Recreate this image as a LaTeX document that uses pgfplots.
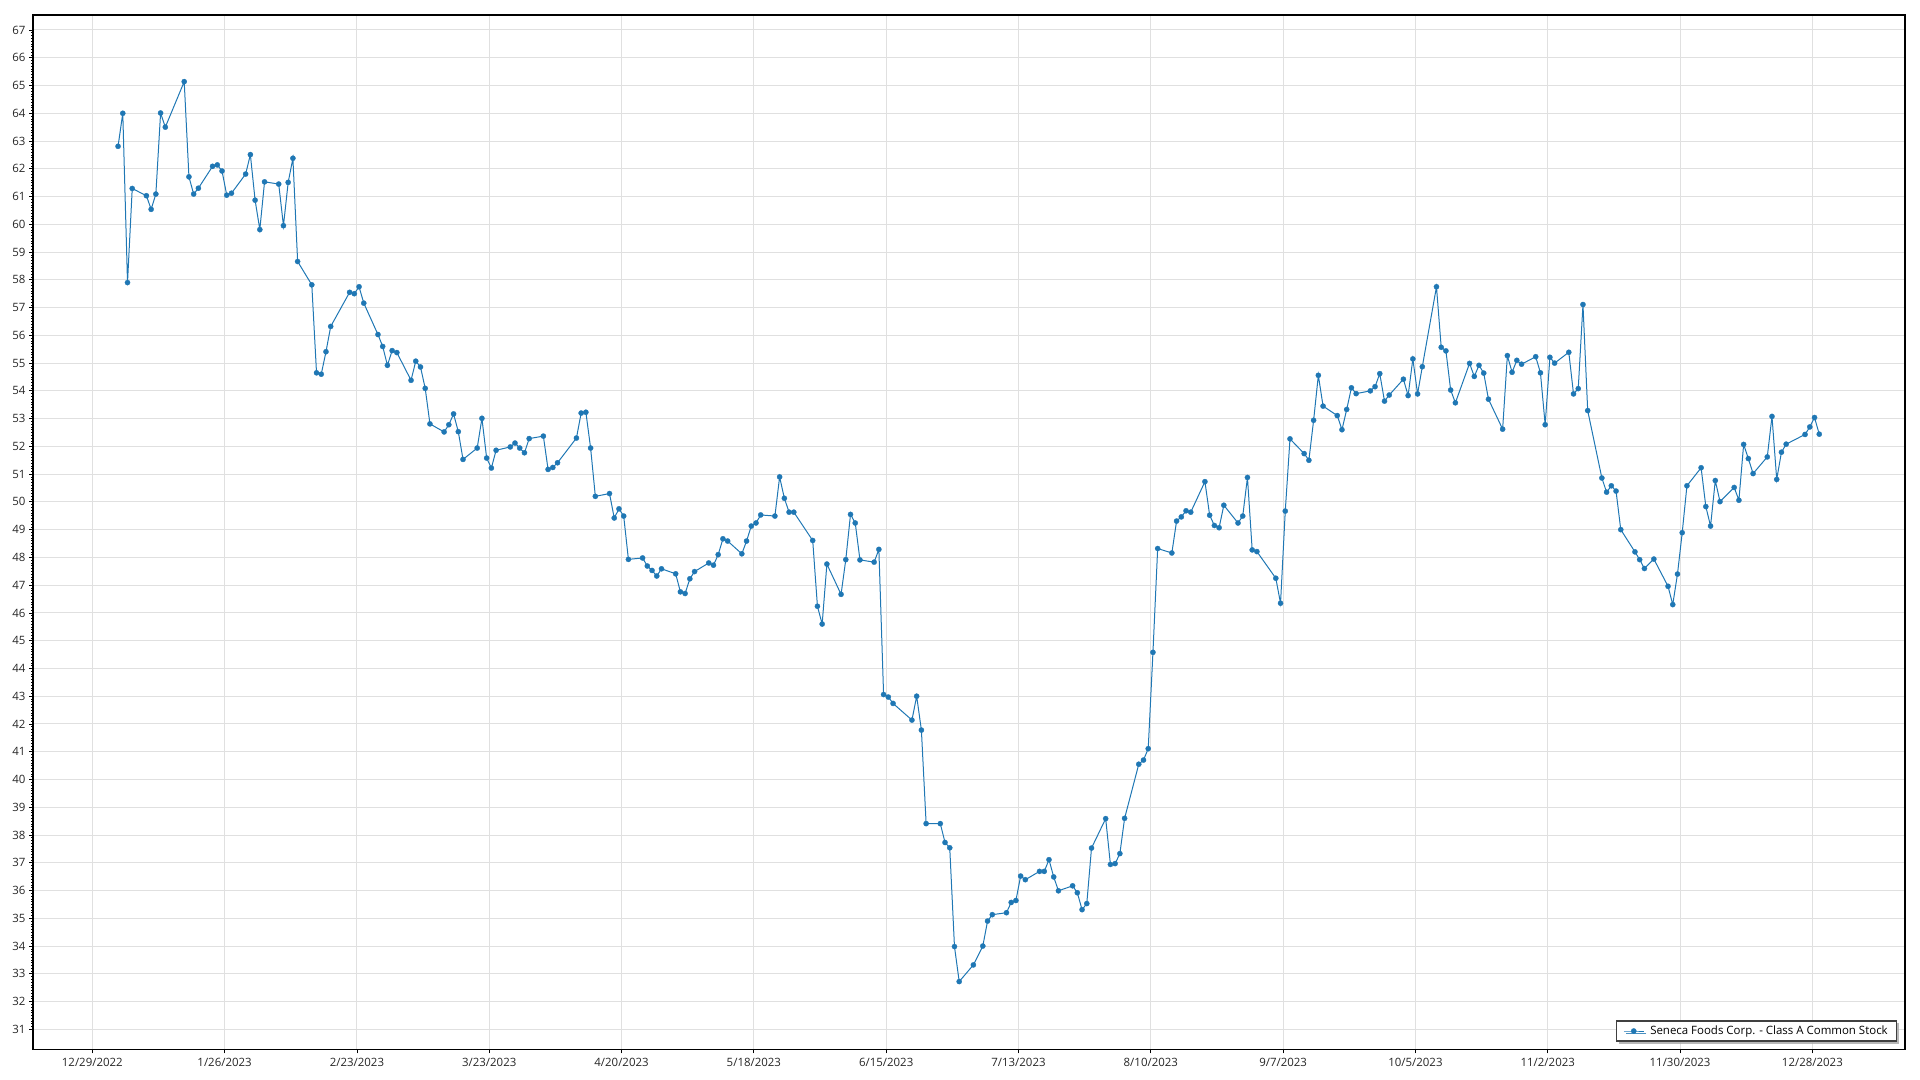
\documentclass[border=0pt]{standalone}
\usepackage{pgfplots}
\pgfplotsset{compat=1.18}
\usepackage{pgfplotstable}
\usepackage{fontspec}
\setmainfont{Open Sans}
\usetikzlibrary{shadows}
\definecolor{serieblue}{RGB}{31,119,180}
\definecolor{gridgray}{RGB}{224,224,224}

\pgfplotstableread{
d v
5 62.81
6 64.00
7 57.90
8 61.29
11 61.03
12 60.54
13 61.09
14 64.01
15 63.50
19 65.14
20 61.71
21 61.09
22 61.30
25 62.09
26 62.14
27 61.92
28 61.05
29 61.12
32 61.81
33 62.51
34 60.87
35 59.81
36 61.53
39 61.45
40 59.95
41 61.51
42 62.38
43 58.66
46 57.82
47 54.65
48 54.60
49 55.41
50 56.32
54 57.55
55 57.50
56 57.75
57 57.16
60 56.03
61 55.60
62 54.92
63 55.45
64 55.38
67 54.38
68 55.07
69 54.86
70 54.09
71 52.81
74 52.52
75 52.78
76 53.17
77 52.53
78 51.53
81 51.94
82 53.01
83 51.58
84 51.22
85 51.86
88 51.98
89 52.12
90 51.94
91 51.77
92 52.28
95 52.37
96 51.17
97 51.24
98 51.41
102 52.30
103 53.20
104 53.23
105 51.94
106 50.20
109 50.30
110 49.42
111 49.75
112 49.49
113 47.93
116 47.98
117 47.69
118 47.53
119 47.33
120 47.59
123 47.41
124 46.76
125 46.70
126 47.23
127 47.49
130 47.80
131 47.72
132 48.10
133 48.67
134 48.59
137 48.13
138 48.59
139 49.13
140 49.24
141 49.53
144 49.49
145 50.90
146 50.13
147 49.63
148 49.63
152 48.61
153 46.24
154 45.60
155 47.76
158 46.67
159 47.92
160 49.55
161 49.24
162 47.91
165 47.83
166 48.29
167 43.06
168 42.97
169 42.74
173 42.14
174 43.00
175 41.78
176 38.41
179 38.41
180 37.73
181 37.54
182 33.98
183 32.72
186 33.32
188 34.00
189 34.90
190 35.13
193 35.20
194 35.57
195 35.64
196 36.52
197 36.39
200 36.69
201 36.69
202 37.11
203 36.49
204 35.99
207 36.17
208 35.92
209 35.31
210 35.53
211 37.53
214 38.59
215 36.94
216 36.97
217 37.33
218 38.60
221 40.55
222 40.70
223 41.11
224 44.58
225 48.32
228 48.16
229 49.31
230 49.46
231 49.68
232 49.63
235 50.73
236 49.52
237 49.15
238 49.07
239 49.88
242 49.24
243 49.49
244 50.88
245 48.27
246 48.21
250 47.25
251 46.35
252 49.67
253 52.27
256 51.74
257 51.50
258 52.94
259 54.56
260 53.45
263 53.11
264 52.60
265 53.33
266 54.11
267 53.90
270 54.00
271 54.15
272 54.62
273 53.63
274 53.85
277 54.42
278 53.83
279 55.15
280 53.89
281 54.87
284 57.75
285 55.57
286 55.44
287 54.03
288 53.57
291 54.99
292 54.52
293 54.92
294 54.64
295 53.70
298 52.62
299 55.27
300 54.67
301 55.10
302 54.96
305 55.23
306 54.65
307 52.78
308 55.21
309 55.00
312 55.39
313 53.89
314 54.08
315 57.11
316 53.29
319 50.86
320 50.35
321 50.58
322 50.39
323 49.00
326 48.20
327 47.92
328 47.60
330 47.94
333 46.96
334 46.30
335 47.40
336 48.89
337 50.58
340 51.23
341 49.83
342 49.13
343 50.77
344 50.01
347 50.52
348 50.06
349 52.07
350 51.56
351 51.02
354 51.62
355 53.08
356 50.81
357 51.79
358 52.08
362 52.43
363 52.70
364 53.04
365 52.44
}\stocktable

\begin{document}
\begin{tikzpicture}
\useasboundingbox (-33bp,-30.7bp) rectangle (1887bp,1049.3bp);
\begin{axis}[
  at={(0,0)}, anchor=south west,
  scale only axis,
  width=1872bp, height=1034.3bp,
  xmin=-12.55, xmax=383.6,
  ymin=30.28, ymax=67.54,
  xtick={0,28,...,364},
  xticklabels={12/29/2022,1/26/2023,2/23/2023,3/23/2023,4/20/2023,5/18/2023,6/15/2023,7/13/2023,8/10/2023,9/7/2023,10/5/2023,11/2/2023,11/30/2023,12/28/2023},
  ytick={31,32,...,67},
  minor y tick num=9,
  xtick pos=bottom, ytick pos=left,
  tick align=outside,
  major tick length=4bp, minor tick length=2bp,
  tick style={black, line width=0.8bp},
  minor tick style={black, line width=0.6bp},
  grid=major,
  major grid style={gridgray, line width=1bp},
  axis line style={black, line width=1.3bp},
  /pgf/number format/assume math mode=true,
  tick label style={font=\fontsize{11.5}{12}\selectfont, color=black!85},
  xticklabel style={yshift=-1bp},
  legend style={at={(1,0)}, anchor=south east, xshift=-7.7bp, yshift=7.6bp,
    draw=black!75, line width=1.2bp, fill=white,
    font=\fontsize{11.5}{12}\selectfont,
    inner xsep=7bp, inner ysep=3bp,
    /tikz/every odd column/.append style={column sep=4bp},
    drop shadow={shadow xshift=2.5bp, shadow yshift=-2.5bp, fill=black!35, opacity=0.8}},
  legend cell align=left,
  legend image code/.code={\draw[mark repeat=2,mark phase=2] plot coordinates {(0bp,0bp)(10bp,0bp)(20bp,0bp)};},
]
\addplot[color=serieblue, line width=1bp, mark=*, mark size=2.6bp,
  mark options={fill=serieblue, draw=serieblue, line width=0.3bp}]
  table[x expr=\thisrow{d}+0.45, y=v] {\stocktable};
\addlegendentry{Seneca Foods Corp. - Class A Common Stock}
\end{axis}
\end{tikzpicture}
\end{document}
